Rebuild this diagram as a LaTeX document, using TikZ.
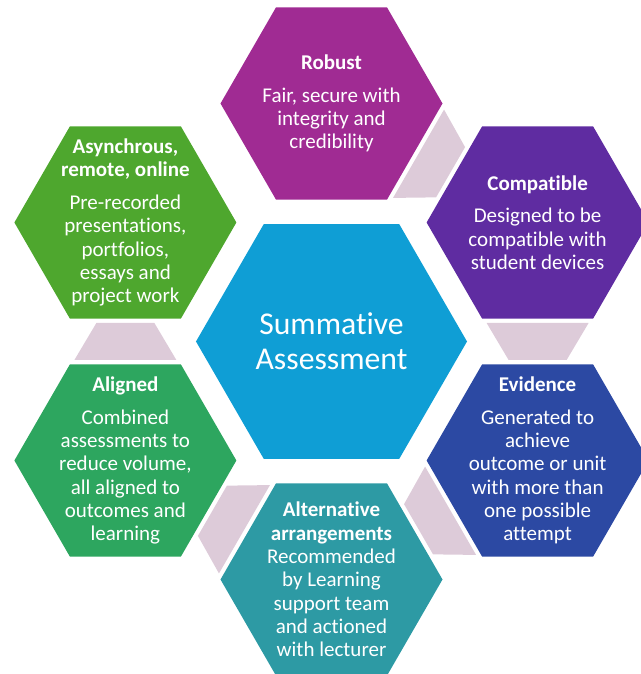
\documentclass[tikz,border=0pt]{standalone}
\usepackage{fontspec}
\setmainfont{Carlito}[Ligatures=NoCommon]
\usetikzlibrary{shapes.geometric,calc}

\definecolor{hubcol}{HTML}{0F9ED5}
\definecolor{robcol}{HTML}{A02B93}
\definecolor{cmpcol}{HTML}{5F2CA1}
\definecolor{evdcol}{HTML}{2C49A3}
\definecolor{altcol}{HTML}{2D9AA4}
\definecolor{alncol}{HTML}{2DA65F}
\definecolor{asycol}{HTML}{4EA72E}
\definecolor{linkcol}{HTML}{DDCBD9}

\tikzset{
  hexa/.style={regular polygon, regular polygon sides=6, minimum size=222pt,
    inner sep=0pt, outer sep=0pt},
  hextext/.style={text=white, align=center, inner sep=0pt,
    font=\fontsize{21}{23.3}\selectfont},
  link/.style={fill=linkcol},
}

\begin{document}
\begin{tikzpicture}[x=1pt,y=1pt]
    \useasboundingbox (-331.5,-332.5) rectangle (308.5,341.5);

    \node[hexa, fill=hubcol, minimum size=271pt] (hub) at (0,0) {};
    \node[hexa, fill=robcol] (rob) at (90:238) {};
    \node[hexa, fill=cmpcol] (cmp) at (30:238) {};
    \node[hexa, fill=evdcol] (evd) at (-30:238) {};
    \node[hexa, fill=altcol] (alt) at (-90:238) {};
    \node[hexa, fill=alncol] (aln) at (-150:238) {};
    \node[hexa, fill=asycol] (asy) at (150:238) {};

    % links between neighbours, wide end at the source
    \foreach \s/\t/\m in {rob/cmp/60, cmp/evd/0, evd/alt/-60, alt/aln/-120, aln/asy/180}
        \fill[link, shift={($(\s)!.5!(\t)$)}, rotate=\m-90]
            (-18.5,51) -- (-18.5,-51) -- (18.5,-29) -- (18.5,29) -- cycle;

    \node[hextext, font=\fontsize{31.7}{35}\selectfont] (hub-t) at (hub) {Summative\\Assessment};
    \node[hextext] (rob-t) at (rob) {{\bfseries Robust}\\[9.5pt]Fair, secure with\\integrity and\\credibility};
    \node[hextext] (cmp-t) at (cmp) {{\bfseries Compatible}\\[9.5pt]Designed to be\\compatible with\\student devices};
    \node[hextext] (evd-t) at (evd) {{\bfseries Evidence}\\[9.5pt]Generated to\\achieve\\outcome or unit\\with more than\\one possible\\attempt};
    \node[hextext] (alt-t) at (alt) {{\bfseries Alternative}\\{\bfseries arrangements}\\Recommended\\by Learning\\support team\\and actioned\\with lecturer};
    \node[hextext] (aln-t) at (aln) {{\bfseries Aligned}\\[9.5pt]Combined\\assessments to\\reduce volume,\\all aligned to\\outcomes and\\learning};
    \node[hextext] (asy-t) at (asy) {{\bfseries Asynchrous,}\\{\bfseries remote, online}\\[9.5pt]Pre-recorded\\presentations,\\portfolios,\\essays and\\project work};

\end{tikzpicture}
\end{document}
